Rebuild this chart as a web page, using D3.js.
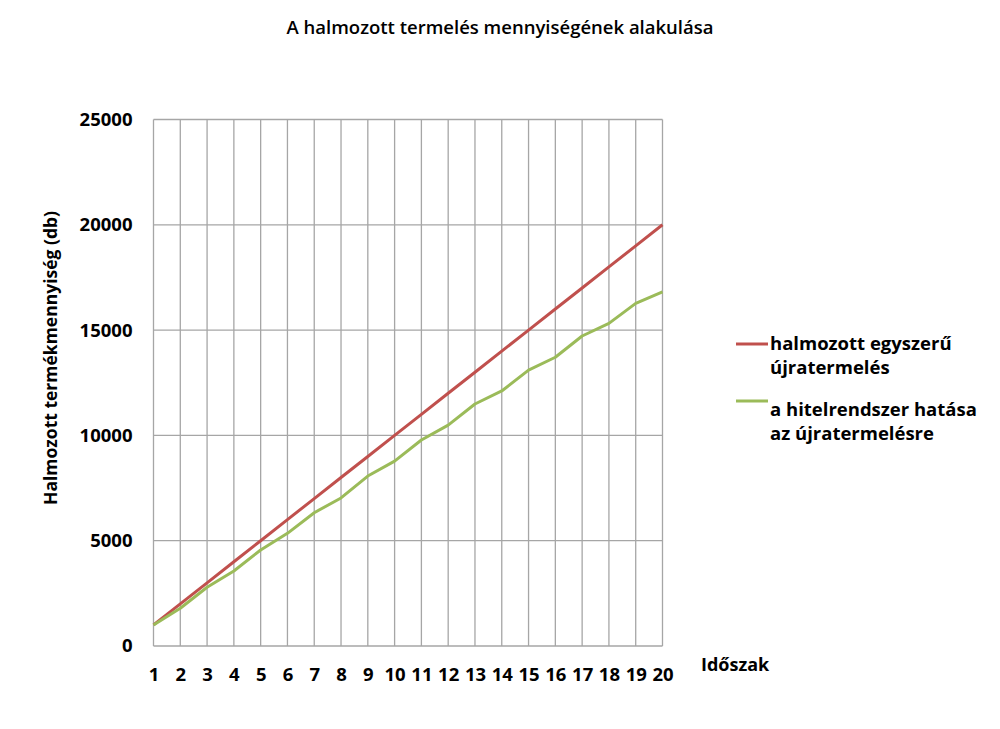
<!DOCTYPE html>
<html><head><meta charset="utf-8">
<script src="https://cdn.jsdelivr.net/npm/d3@7"></script>
<style>body{margin:0;background:#fff;} svg{display:block;} text{font-family:"Open Sans","Noto Sans",sans-serif;fill:#000;}</style>
</head><body>
<script>
const categories = d3.range(1, 21).map(String);
const series1 = [1000,2000,3000,4000,5000,6000,7000,8000,9000,10000,11000,12000,13000,14000,15000,16000,17000,18000,19000,20000];
const series2 = [1000,1790,2790,3560,4560,5350,6330,7030,8070,8780,9780,10490,11490,12110,13100,13710,14720,15320,16270,16820];
const yTicks = [0,5000,10000,15000,20000,25000];
const seriesNames = [["halmozott egyszerű","újratermelés"],["a hitelrendszer hatása","az újratermelésre"]];
const colors = ["#c0504d","#9bbb59"];

const W=1000,H=729;
const svg=d3.select("body").append("svg").attr("width",W).attr("height",H);
const L=153.5,R=662.5,T=119.5,B=646;
const x=d3.scalePoint().domain(categories).range([L,R]).padding(0);
const y=d3.scaleLinear().domain([0,25000]).range([B,T]);
const FS="18.5px", FW=700;

svg.append("text").attr("x",500).attr("y",34).attr("text-anchor","middle")
  .style("font-size","18.5px").style("font-weight",600).text("A halmozott termelés mennyiségének alakulása");

const g=svg.append("g");
g.selectAll(".hg").data(yTicks).enter().append("line")
  .attr("x1",L).attr("x2",R).attr("y1",d=>y(d)).attr("y2",d=>y(d))
  .attr("stroke","#a6a6a6").attr("stroke-width",1.3);
g.selectAll(".vg").data(categories).enter().append("line")
  .attr("x1",d=>x(d)).attr("x2",d=>x(d)).attr("y1",T).attr("y2",B)
  .attr("stroke","#a6a6a6").attr("stroke-width",1.3);

const ya=svg.append("g").attr("transform",`translate(${L},0)`)
  .call(d3.axisLeft(y).tickValues(yTicks).tickFormat(d3.format("d")).tickSize(0).tickPadding(21));
ya.select(".domain").remove();
ya.selectAll("text").style("font-size",FS).style("font-weight",FW).style("font-family","'Open Sans',sans-serif");

const xa=svg.append("g").attr("transform",`translate(0,${B})`)
  .call(d3.axisBottom(x).tickSize(0));
xa.select(".domain").remove();
xa.selectAll("text").attr("y",35).attr("dy",0).style("font-size",FS).style("font-weight",FW).style("font-family","'Open Sans',sans-serif");

svg.append("text").attr("x",701).attr("y",671).style("font-size","18px").style("font-weight",FW).text("Időszak");
svg.append("text").attr("transform",`translate(57,358) rotate(-90)`).attr("text-anchor","middle")
  .style("font-size","17.5px").style("font-weight",FW).text("Halmozott termékmennyiség (db)");

const line=d3.line().x((d,i)=>x(categories[i])).y(d=>y(d));
[series1,series2].forEach((s,k)=>{
  svg.append("path").datum(s).attr("d",line).attr("fill","none").attr("stroke",colors[k]).attr("stroke-width",3).attr("stroke-linejoin","round");
});

const legY=[344,401];
const legBase=[350,416];
seriesNames.forEach((nm,k)=>{
  svg.append("line").attr("x1",736).attr("x2",768).attr("y1",legY[k]).attr("y2",legY[k]).attr("stroke",colors[k]).attr("stroke-width",3);
  nm.forEach((t,j)=>{
    svg.append("text").attr("x",770).attr("y",legBase[k]+j*24).style("font-size",FS).style("font-weight",FW).text(t);
  });
});
</script>
</body></html>
